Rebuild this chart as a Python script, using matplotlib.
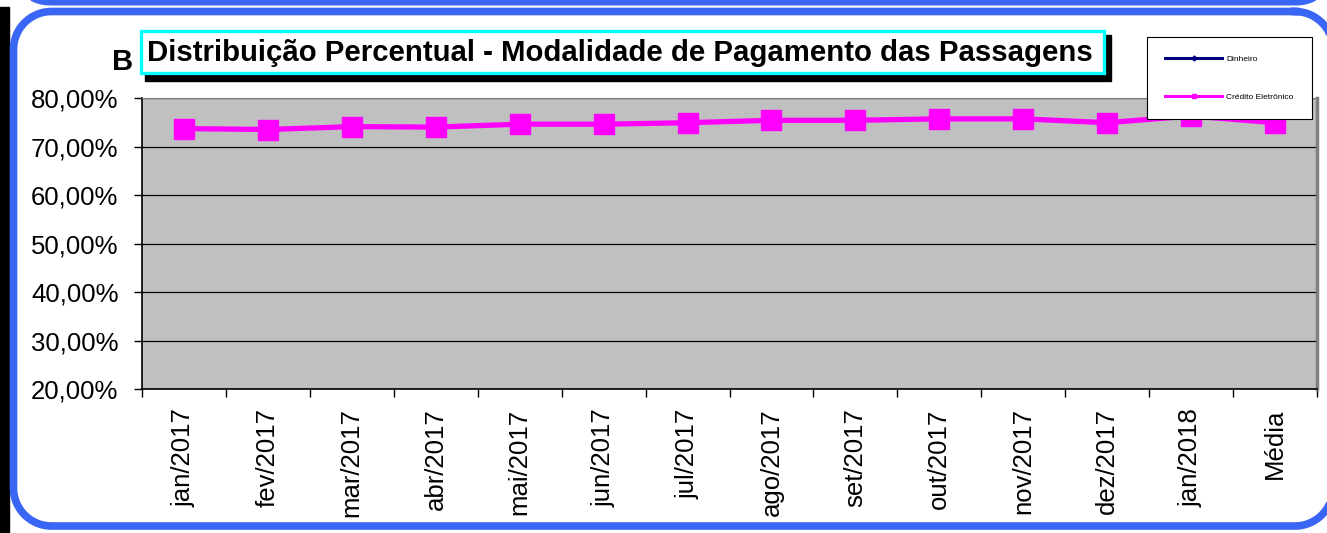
import numpy as np
import matplotlib
matplotlib.use('Agg')
import matplotlib.pyplot as plt
from matplotlib.patches import Rectangle
from matplotlib.lines import Line2D

plt.rcParams['font.family'] = ['Liberation Sans', 'DejaVu Sans']

# data (percent)
meses = ['jan/2017', 'fev/2017', 'mar/2017', 'abr/2017', 'mai/2017', 'jun/2017',
         'jul/2017', 'ago/2017', 'set/2017', 'out/2017', 'nov/2017', 'dez/2017',
         'jan/2018', 'Média']
credito = [73.7, 73.5, 74.1, 74.0, 74.6, 74.6, 74.9, 75.4, 75.4, 75.7, 75.7, 74.9, 76.3, 74.9]
yticks = [20, 30, 40, 50, 60, 70, 80]
titulo = 'Distribuição Percentual - Modalidade de Pagamento das Passagens'

W, H = 1327, 533
fig = plt.figure(figsize=(W/100, H/100), dpi=100)


def rounded_rect(x0, y0, x1, y1, r):
    # polyline of a rounded rectangle (pixel coords, y down)
    xs, ys = [], []
    corners = [(x1 - r, y0 + r, -90, 0), (x1 - r, y1 - r, 0, 90),
               (x0 + r, y1 - r, 90, 180), (x0 + r, y0 + r, 180, 270)]
    for cx, cy, a0, a1 in corners:
        t = np.radians(np.linspace(a0, a1, 25))
        xs.extend(cx + r*np.cos(t))
        ys.extend(cy + r*np.sin(t))
    xs.append(xs[0])
    ys.append(ys[0])
    return xs, ys


# background: frames
bg = fig.add_axes([0, 0, 1, 1], zorder=0)
bg.set_xlim(0, W)
bg.set_ylim(H, 0)
bg.axis('off')
blue = '#3A66F5'
bg.add_patch(Rectangle((0, 7), 9, H, color='black'))
fx, fy = rounded_rect(13.5, -300, 1333, 2, 36)
bg.plot(fx, fy, color=blue, lw=5, solid_joinstyle='round')
fx, fy = rounded_rect(13.5, 11.5, 1333, 526, 38)
bg.plot(fx, fy, color=blue, lw=5.5, solid_joinstyle='round')

# main chart
ax = fig.add_axes([142/W, 1-389/H, (1317-142)/W, (389-98)/H], zorder=1)
ax.set_facecolor('#C0C0C0')
x = np.arange(len(meses))
ax.plot(x, credito, color='#FF00FF', lw=3.8, marker='s', ms=14.5, zorder=3)
ax.set_xlim(-0.5, len(meses)-0.5)
ax.set_ylim(20, 80)
ax.set_yticks(yticks)
ax.set_yticklabels([('%.2f' % v).replace('.', ',') + '%' for v in yticks], fontsize=18.5)
ax.tick_params(axis='y', length=6, width=1, pad=11)
ax.grid(axis='y', color='black', lw=0.9)
ax.set_xticks(x)
ax.set_xticklabels(meses, rotation=90, fontsize=18.5)
ax.tick_params(axis='x', which='major', length=0, pad=14)
ax.set_xticks(np.arange(-0.5, len(meses), 1), minor=True)
ax.tick_params(axis='x', which='minor', length=6, width=1)
ax.spines['top'].set_color('#808080')
ax.spines['right'].set_color('#808080')
ax.spines['right'].set_linewidth(2.5)
ax.spines['left'].set_linewidth(1.2)
ax.spines['bottom'].set_linewidth(1.2)

h1 = Line2D([], [], color='#000080', lw=2.2, marker='D', ms=2.5)
h2 = Line2D([], [], color='#FF00FF', lw=2.2, marker='s', ms=3)
leg = ax.legend([h1, h2], ['Dinheiro', 'Crédito Eletrônico'], fontsize=6,
                loc='upper left', bbox_to_anchor=(1147/W, 1-37/H), bbox_transform=fig.transFigure,
                fancybox=False, edgecolor='black', framealpha=1, borderpad=2.2,
                labelspacing=3.6, handlelength=6.8, handletextpad=0.5, borderaxespad=0)
leg.get_frame().set_linewidth(0.8)
leg.set_zorder(5)

# foreground: title box and letter
fg = fig.add_axes([0, 0, 1, 1], zorder=3)
fg.set_xlim(0, W)
fg.set_ylim(H, 0)
fg.axis('off')
fg.patch.set_alpha(0)
fg.add_patch(Rectangle((145, 35), 966, 46, color='black'))
fg.add_patch(Rectangle((140.5, 30.5), 963, 42, fc='white', ec='#00FFFF', lw=2.4))
fg.text(620, 53, titulo, fontsize=21.2, fontweight='bold', ha='center', va='center')
fg.text(123, 62, 'B', fontsize=21, fontweight='bold', ha='center', va='center')

fig.savefig('out.png', dpi=100)
